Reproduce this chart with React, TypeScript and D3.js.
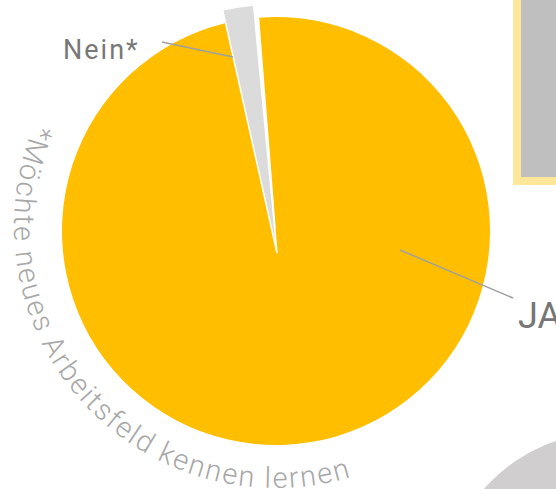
import React from "react";
import * as d3 from "d3";

const categories = ["Nein*", "JA"];
const values = [2, 98];
const footnote = "*Möchte neues Arbeitsfeld kennen lernen";

const W = 556;
const H = 489;
const deg = Math.PI / 180;

export default function App() {
  const cx = 276, cy = 231, r = 214;
  const pie = d3.pie<number>().sort(null).startAngle(-12.6 * deg).endAngle(347.4 * deg);
  const arcs = pie(values);
  const nein = arcs[0];
  const ja = arcs[1];

  const yellowArc = d3.arc<any>().innerRadius(0).outerRadius(r);
  const wedgeArc = d3.arc<any>().innerRadius(0).outerRadius(249);

  // text arc
  const tcx = 276, tcy = 226, tR = 262;
  const a1 = 293 * deg, a2 = 140 * deg;
  const p = (a: number) => [tcx + tR * Math.sin(a), tcy - tR * Math.cos(a)];
  const [sx, sy] = p(a1);
  const [ex, ey] = p(a2);
  const textPath = `M${sx},${sy} A${tR},${tR} 0 0 0 ${ex},${ey}`;

  return (
    <svg width={W} height={H} style={{ position: "absolute", left: 0, top: 0 }}>
      <rect width={W} height={H} fill="#ffffff" />
      {/* background decorations */}
      <rect x={517} y={-20} width={80} height={201} fill="#BFBFBF" stroke="#FFE699" strokeWidth={8} />
      <circle cx={610} cy={600} r={168} fill="#D0CECE" />

      <g transform={`translate(${cx},${cy})`}>
        <path d={yellowArc({ ...ja, padAngle: 1.8 * deg }) as string} fill="#FFBF00" />
      </g>
      <g transform={`translate(277,253)`}>
        <path d={wedgeArc(nein) as string} fill="#DBDBDB" stroke="#ffffff" strokeWidth={1.5} strokeLinejoin="miter" />
      </g>

      {/* leader lines */}
      <line x1={162} y1={42} x2={233} y2={57} stroke="#A0A0A0" strokeWidth={1.5} />
      <line x1={400} y1={250} x2={513} y2={298} stroke="#A0A0A0" strokeWidth={1.5} />

      <text x={63} y={59} fontFamily="Roboto, sans-serif" fontSize={27} fill="#787878" letterSpacing={2}>
        {categories[0]}
      </text>
      <text x={518} y={328} fontFamily="Roboto, sans-serif" fontSize={36} fill="#767676">
        {categories[1]}
      </text>

      <defs>
        <path id="fnpath" d={textPath} />
      </defs>
      <text fontFamily="Roboto, sans-serif" fontWeight={300} fontSize={29} fill="#A8A8A8" letterSpacing={1.9}>
        <textPath href="#fnpath">{footnote}</textPath>
      </text>
    </svg>
  );
}
